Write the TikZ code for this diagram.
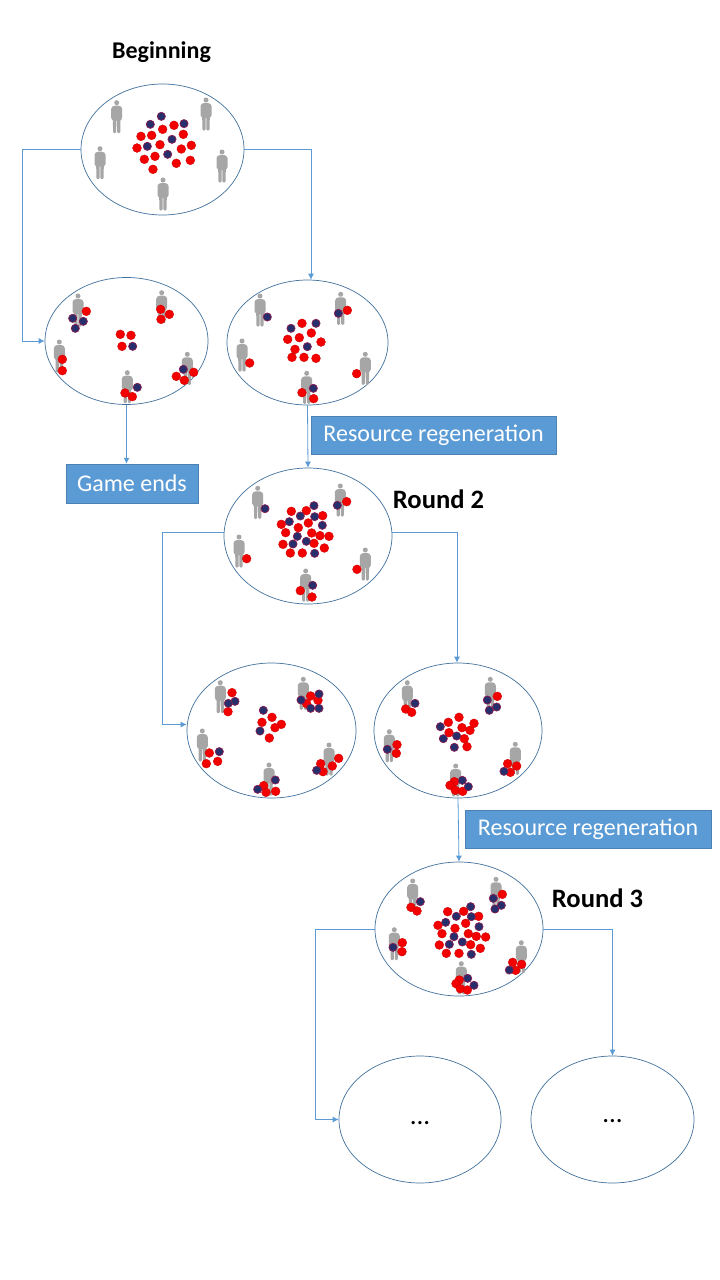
\documentclass[tikz,border=0pt]{standalone}
\usepackage{fontspec}
\setmainfont{Carlito}
\usepackage{xcolor}
\usetikzlibrary{positioning, arrows.meta, shapes.geometric}

\definecolor{flowblue}{HTML}{5B9BD5}
\definecolor{ringblue}{HTML}{41719C}
\definecolor{persongray}{HTML}{A6A6A6}
\definecolor{dotred}{HTML}{F40000}
\definecolor{dotnavy}{HTML}{262F6B}
\definecolor{dotrim}{HTML}{8A1C50}

% one cluster of resources, typed as offsets from a corner
\newcommand{\dotcluster}[4]{%
  \begin{scope}[shift={(#1,#2)}, x=0.3333pt, y=-0.3333pt]
    \foreach \px/\py in {#3} \path[reddot] (\px,\py) circle (4.4pt);
    \foreach \px/\py in {#4} \path[navydot] (\px,\py) circle (4.1pt);
  \end{scope}}

\begin{document}
\begin{tikzpicture}[
    x=1pt, y=-1pt,
    pool/.style={ellipse, draw=ringblue, fill=white, line width=0.7pt, inner sep=0pt, font=\fontsize{27}{27}\selectfont},
    note/.style={rectangle, draw=ringblue!60!flowblue, fill=flowblue, text=white, line width=0.4pt, minimum height=38pt, font=\fontsize{24}{26}\selectfont, inner sep=0pt},
    title/.style={font=\fontsize{26.6}{28}\selectfont\bfseries, inner sep=0pt},
    flow/.style={draw=flowblue, line width=0.8pt, -{Latex[length=6pt,width=6pt]}},
    reddot/.style={fill=dotred, draw=dotred!85!black, line width=0.4pt},
    navydot/.style={fill=dotnavy, draw=dotrim, line width=0.7pt},
    person/.pic={
      \fill[persongray] (0,-14) circle (2.5pt);
      \fill[persongray, rounded corners=1.2pt] (-3,-11) -- (3,-11) -- (5.5,-9) -- (5.5,2.5) -- (3.8,2.5) -- (3.6,16.5) -- (0.5,16.5) -- (0.4,3) -- (-0.4,3) -- (-0.5,16.5) -- (-3.6,16.5) -- (-3.8,2.5) -- (-5.5,2.5) -- (-5.5,-9) -- cycle;
    }
]
\useasboundingbox (0,0) rectangle (720,1280);

\node[pool, minimum width=163pt, minimum height=131pt] (start) at (162.5,149.5) {};
\node[pool, minimum width=163pt, minimum height=127pt] (lossA) at (126.5,341) {};
\node[pool, minimum width=161pt, minimum height=125pt] (keepA) at (307.5,342.5) {};
\node[pool, minimum width=168pt, minimum height=136pt] (round2) at (308,536) {};
\node[pool, minimum width=169pt, minimum height=135pt] (lossB) at (271.5,730.5) {};
\node[pool, minimum width=168pt, minimum height=135pt] (keepB) at (458,730.5) {};
\node[pool, minimum width=168pt, minimum height=134pt] (round3) at (459,929) {};
\node[pool, minimum width=162pt, minimum height=127pt] (lossC) at (420,1119.5) {};
\node[pool, minimum width=163pt, minimum height=127pt] (keepC) at (612.5,1119.5) {};
\node (lossdots) at (420,1123) {\fontsize{27}{27}\selectfont ...};
\node (keepdots) at (612.5,1121) {\fontsize{27}{27}\selectfont ...};

\node[title, font=\fontsize{24}{26}\selectfont\bfseries] (beginlabel) at (161.5,52.5) {Beginning};
\node[title] (round2label) at (438.5,499.5) {Round 2};
\node[title] (round3label) at (597.5,898.5) {Round 3};

\node[note, minimum width=245pt] (regen1) at (433.5,435) {Resource regeneration};
\node[note, minimum width=132pt, minimum height=39pt] (gameend) at (132,483.5) {Game ends};
\node[note, minimum width=246pt] (regen2) at (588,829) {Resource regeneration};

\draw[flow] (start.west) -- ++(-58,0) |- (lossA.west);
\draw[flow] (start.east) -| ([xshift=3.5pt]keepA.north);
\draw[flow] (lossA.south) -- (lossA.south |- gameend.north);
\draw[flow] (keepA.south) -- (round2.north);
\draw[flow] ([yshift=4pt]round2.west) -- ++(-61,0) |- ([yshift=6pt]lossB.west);
\draw[flow] ([yshift=4pt]round2.east) -| ([xshift=-1pt]keepB.north);
\draw[flow] (keepB.south) -- (round3.north);
\draw[flow] (round3.west) -- ++(-59,0) |- (lossC.west);
\draw[flow] (round3.east) -| (keepC.north);

% people
\foreach \px/\py in {116.7/116.7, 206/114, 100/162.7, 222/166, 163/194,
    78/310, 161.7/306.7, 59.3/356, 187.3/368.3, 127.3/386.7,
    260/310, 340.7/308.3, 242/355, 365.3/368.3, 306.7/387.3,
    257.7/502.3, 340.3/500, 239/551, 365.3/564, 305.7/585,
    220.3/696.7, 303.3/693.3, 202.3/745, 329/759, 269/779,
    407.3/696.7, 490.3/693.3, 389.3/745.7, 515.3/758.3, 455.7/780,
    412.7/895, 496/893.3, 394.3/943.7, 521.3/956.7, 461.3/977.7}
  \pic at (\px,\py) {person};

% resources
\dotcluster{70}{80}
  {278/148,312/136,213/169,245/166,340/163,201/204,270/194,364/196,334/207,255/229,223/238,361/241,319/250,249/268}
  {274/109,241/133,342/131,306/178,232/199,293/223}
\dotcluster{40}{275}
  {139/109,362/103,388/118,363/133,241/178,273/181,246/214,67/253,67/287,409/304,461/292,433/316,255/354,277/365}
  {98/130,130/139,106/160,278/214,430/283,292/337}
\dotcluster{220}{275}
  {246/145,382/106,274/174,238/188,203/193,303/201,225/223,216/247,252/247,288/250,89/264,410/296,246/353,281/371}
  {142/126,213/160,288/145,355/115,262/215,280/340}
\dotcluster{220}{465}
  {214/139,259/137,308/152,380/110,184/178,197/203,235/188,265/174,275/204,300/212,327/214,189/238,282/235,313/249,211/264,247/264,80/281,411/313,241/377,276/396}
  {282/122,241/153,284/155,352/121,135/131,208/170,307/181,232/214,219/237,259/229,284/265,278/361}
\dotcluster{180}{660}
  {156/98,144/155,392/108,414/121,380/131,276/172,246/187,304/193,285/203,268/234,88/279,113/304,79/311,422/311,476/295,457/318,429/335,251/377,258/397,287/394}
  {165/124,145/130,417/102,363/120,392/145,417/145,250/151,240/213,118/275,410/331,286/360,233/388}
\dotcluster{370}{660}
  {107/147,125/157,382/109,267/172,235/187,312/190,276/203,300/211,237/218,283/236,291/260,81/254,79/280,413/311,440/318,421/337,253/365,240/376,256/391,278/394}
  {135/130,352/120,380/141,358/151,211/200,220/236,260/228,253/262,52/268,402/334,277/361,295/380}
\dotcluster{370}{865}
  {123/127,141/138,397/88,233/140,281/139,326/154,287/175,204/181,255/190,216/206,295/206,319/214,347/216,208/240,302/239,331/250,229/265,267/265,97/233,96/260,428/292,455/298,437/316,268/345,258/356,271/371,292/375}
  {151/110,370/100,394/121,375/132,302/125,259/154,304/155,227/172,327/185,252/215,238/238,277/231,304/268,69/247,418/315,293/340,312/361}
\end{tikzpicture}
\end{document}
